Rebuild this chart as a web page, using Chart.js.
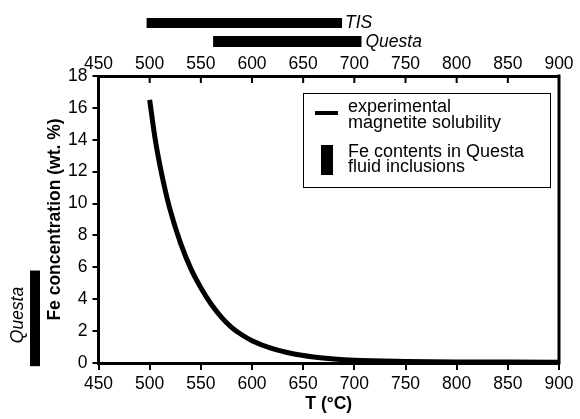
<!DOCTYPE html>
<html>
<head>
<meta charset="UTF-8">
<script src="https://cdn.jsdelivr.net/npm/chart.js@4/dist/chart.umd.min.js"></script>
<style>
*{margin:0;padding:0}
body{background:#fff;width:580px;height:419px;overflow:hidden}
#wrap{position:relative;width:580px;height:419px}
</style>
</head>
<body>
<div id="wrap"><canvas id="c" width="580" height="419"></canvas></div>
<script>
// experimental magnetite solubility curve
var temps = [500, 505, 510, 515, 520, 530, 540, 550, 560, 570, 580, 590, 600, 620, 640, 660, 680, 700, 750, 800, 850, 900];
var feWt  = [16.5, 14.2, 12.4, 10.9, 9.6, 7.55, 5.95, 4.72, 3.7, 2.88, 2.24, 1.77, 1.4, 0.9, 0.58, 0.38, 0.25, 0.17, 0.1, 0.07, 0.06, 0.05];

// temperature ranges shown as bars above the plot
var tisRange = [497, 688];
var questaTRange = [562, 707];
// Fe range in Questa fluid inclusions (bar left of the y axis)
var questaFeRange = [-0.2, 5.8];

var xTicks = [450, 500, 550, 600, 650, 700, 750, 800, 850, 900];

var FONT = "Liberation Sans, Arial, Helvetica, sans-serif";
var tickFont = {family: FONT, size: 17.5};

var extras = {
  id: "extras",
  afterDraw: function(chart) {
    var ctx = chart.ctx, a = chart.chartArea;
    var x2 = chart.scales.x2, y = chart.scales.y;
    ctx.save();
    ctx.fillStyle = "#000";
    ctx.strokeStyle = "#000";

    // right frame line
    ctx.lineWidth = 3;
    ctx.beginPath();
    ctx.moveTo(a.right, a.top - 1.5);
    ctx.lineTo(a.right, a.bottom + 1.5);
    ctx.stroke();

    // top ticks point inward
    ctx.lineWidth = 2;
    x2.ticks.forEach(function(t) {
      var px = x2.getPixelForValue(t.value);
      ctx.beginPath();
      ctx.moveTo(px, a.top);
      ctx.lineTo(px, a.top + 7);
      ctx.stroke();
    });

    // temperature bars above
    var bx0 = x2.getPixelForValue(tisRange[0]), bx1 = x2.getPixelForValue(tisRange[1]);
    ctx.fillRect(bx0, 18, bx1 - bx0, 10);
    var qx0 = x2.getPixelForValue(questaTRange[0]), qx1 = x2.getPixelForValue(questaTRange[1]);
    ctx.fillRect(qx0, 36, qx1 - qx0, 11);

    ctx.font = "italic 17.5px " + FONT;
    ctx.textBaseline = "middle";
    ctx.textAlign = "left";
    ctx.fillText("TIS", bx1 + 3, 23);
    ctx.fillText("Questa", qx1 + 4, 42);

    // Questa Fe bar left of the y axis
    var yTop = y.getPixelForValue(questaFeRange[1]), yBot = y.getPixelForValue(questaFeRange[0]);
    ctx.fillRect(30, yTop, 10, yBot - yTop);
    ctx.save();
    ctx.translate(18, 315);
    ctx.rotate(-Math.PI / 2);
    ctx.textAlign = "center";
    ctx.fillText("Questa", 0, 0);
    ctx.restore();

    // legend
    ctx.fillStyle = "#fff";
    ctx.fillRect(303, 93, 248, 95);
    ctx.lineWidth = 1;
    ctx.strokeRect(303.5, 93.5, 247, 94);
    ctx.fillStyle = "#000";
    ctx.lineWidth = 4;
    ctx.beginPath();
    ctx.moveTo(315, 113);
    ctx.lineTo(338, 113);
    ctx.stroke();
    ctx.fillRect(321, 145, 12, 30);
    ctx.font = "18px " + FONT;
    ctx.textAlign = "left";
    ctx.fillText("experimental", 348, 107);
    ctx.fillText("magnetite solubility", 348, 123);
    ctx.fillText("Fe contents in Questa", 348, 152);
    ctx.fillText("fluid inclusions", 348, 167);
    ctx.restore();
  }
};

new Chart(document.getElementById("c"), {
  type: "line",
  data: {
    datasets: [{
      label: "experimental magnetite solubility",
      data: temps.map(function(t, i) { return {x: t, y: feWt[i]}; }),
      borderColor: "#000",
      borderWidth: 5,
      pointRadius: 0,
      cubicInterpolationMode: "monotone",
      fill: false
    }]
  },
  options: {
    responsive: false,
    animation: false,
    layout: {padding: {left: 0, right: 21, top: 0, bottom: 0}},
    plugins: {legend: {display: false}, tooltip: {enabled: false}},
    scales: {
      x: {
        type: "linear", position: "bottom", min: 450, max: 900,
        afterBuildTicks: function(s) { s.ticks = xTicks.map(function(v) { return {value: v}; }); },
        ticks: {font: tickFont, color: "#000", maxRotation: 0, autoSkip: false, padding: 4},
        grid: {display: true, drawOnChartArea: false, tickLength: 7, lineWidth: 2, color: "#000"},
        border: {display: true, width: 3, color: "#000"},
        title: {display: true, text: "T (°C)", color: "#000", font: {family: FONT, size: 17.5, weight: "bold"}, padding: {top: 0, bottom: 4.5}},
        afterFit: function(s) { s.height = 56; }
      },
      x2: {
        type: "linear", position: "top", min: 450, max: 900,
        afterBuildTicks: function(s) { s.ticks = xTicks.map(function(v) { return {value: v}; }); },
        ticks: {font: tickFont, color: "#000", maxRotation: 0, autoSkip: false, padding: -7},
        grid: {display: false},
        border: {display: true, width: 3, color: "#000"},
        afterFit: function(s) { s.height = 76; }
      },
      y: {
        type: "linear", min: 0, max: 18,
        ticks: {stepSize: 2, font: tickFont, color: "#000", padding: 5},
        grid: {display: true, drawOnChartArea: false, tickLength: 6, lineWidth: 2, color: "#000"},
        border: {display: true, width: 3, color: "#000"},
        title: {display: true, text: "Fe concentration (wt. %)", color: "#000", font: {family: FONT, size: 17.5, weight: "bold"}, padding: {top: 45, bottom: 0}},
        afterFit: function(s) { s.width = 98.5; }
      }
    }
  },
  plugins: [extras]
});
</script>
</body>
</html>
